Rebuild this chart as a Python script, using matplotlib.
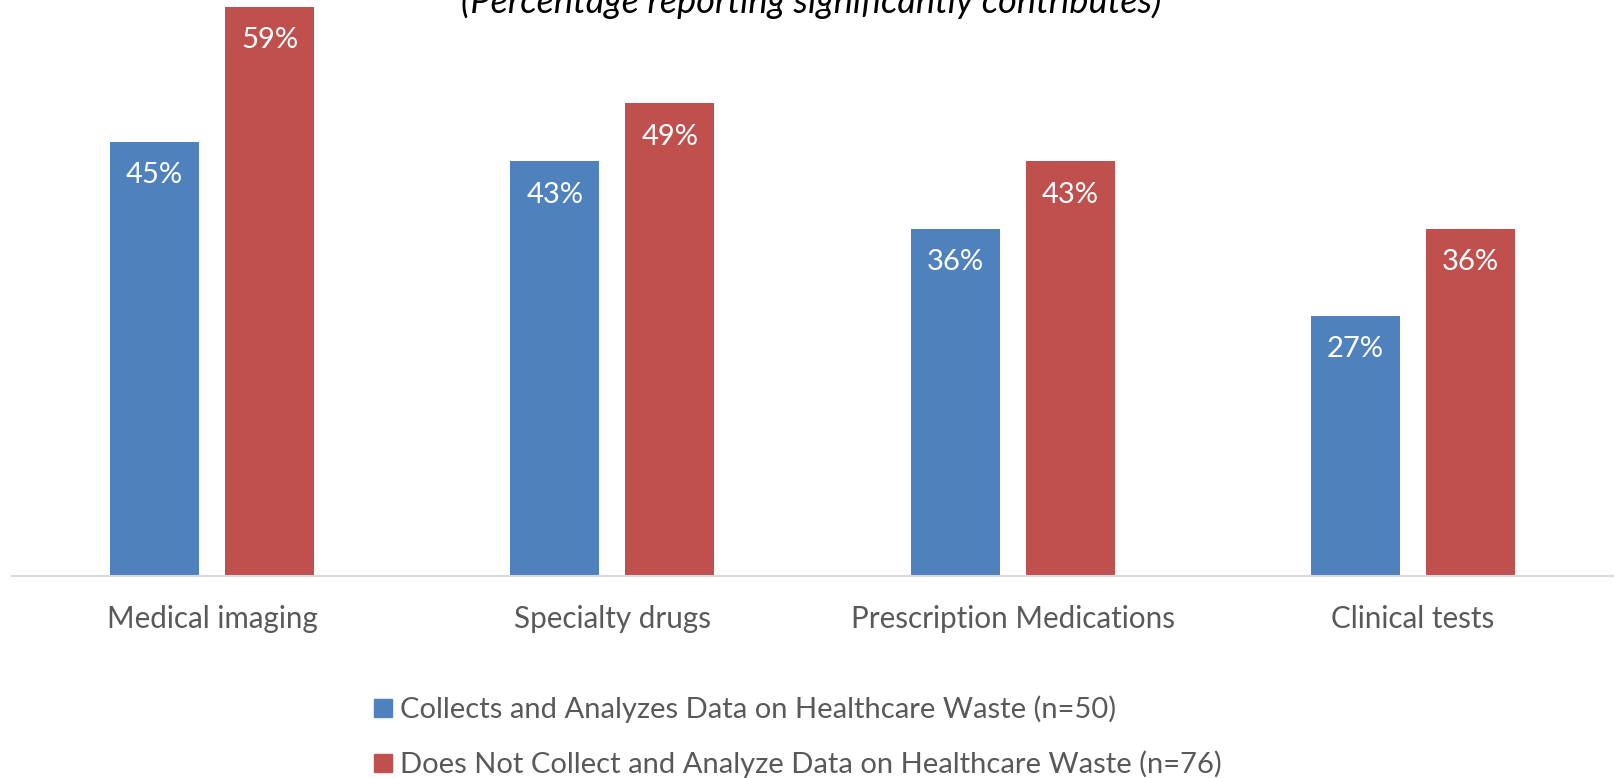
import matplotlib
matplotlib.use("Agg")
import matplotlib.pyplot as plt
from matplotlib.patches import Patch
import numpy as np

categories = ["Medical imaging", "Specialty drugs", "Prescription Medications", "Clinical tests"]
collects = [45, 43, 36, 27]
not_collects = [59, 49, 43, 36]
series_names = ["Collects and Analyzes Data on Healthcare Waste (n=50)",
                "Does Not Collect and Analyze Data on Healthcare Waste (n=76)"]
title = "(Percentage reporting significantly contributes)"

BLUE, RED = "#4F81BD", "#C0504D"
GREY = "#595959"
plt.rcParams["font.family"] = ["Lato", "DejaVu Sans"]

W, H = 1622, 778
fig = plt.figure(figsize=(W / 100, H / 100), dpi=100)
ax = fig.add_axes([12 / W, (H - 576) / H, 1601 / W, 576 / H])

x = np.arange(len(categories))
bw, off = 0.2225, 0.1435
for xs, vals, col in [(x - off, collects, BLUE), (x + off, not_collects, RED)]:
    ax.bar(xs, vals, bw, color=col, zorder=2)
    for xi, v in zip(xs, vals):
        ax.annotate(f"{v}%", (xi, v), xytext=(0, -24), textcoords="offset points",
                    ha="center", va="center", color="white", fontsize=21)

ax.set_xlim(-0.5, len(categories) - 0.5)
ax.set_ylim(0, 59.73)
ax.set_yticks([])
ax.set_xticks(x)
ax.set_xticklabels(categories, fontsize=21.3, color=GREY)
ax.tick_params(axis="x", length=0, pad=21)
for s in ["top", "left", "right"]:
    ax.spines[s].set_visible(False)
ax.spines["bottom"].set_color("#D9D9D9")
ax.spines["bottom"].set_linewidth(1.5)

# title sits partly above the top edge, as in the source image
fig.text(811 / W, 1 - 13 / H, title, ha="center", va="baseline",
         fontsize=26, style="italic", color="black")

handles = [Patch(color=BLUE), Patch(color=RED)]
fig.legend(handles, series_names, loc="center", bbox_to_anchor=(798 / W, (H - 737) / H),
           frameon=False, fontsize=21, labelcolor=GREY, handlelength=0.6, handleheight=0.6,
           handletextpad=0.3, labelspacing=0.95, borderaxespad=0)

fig.savefig("out.png", dpi=100)
